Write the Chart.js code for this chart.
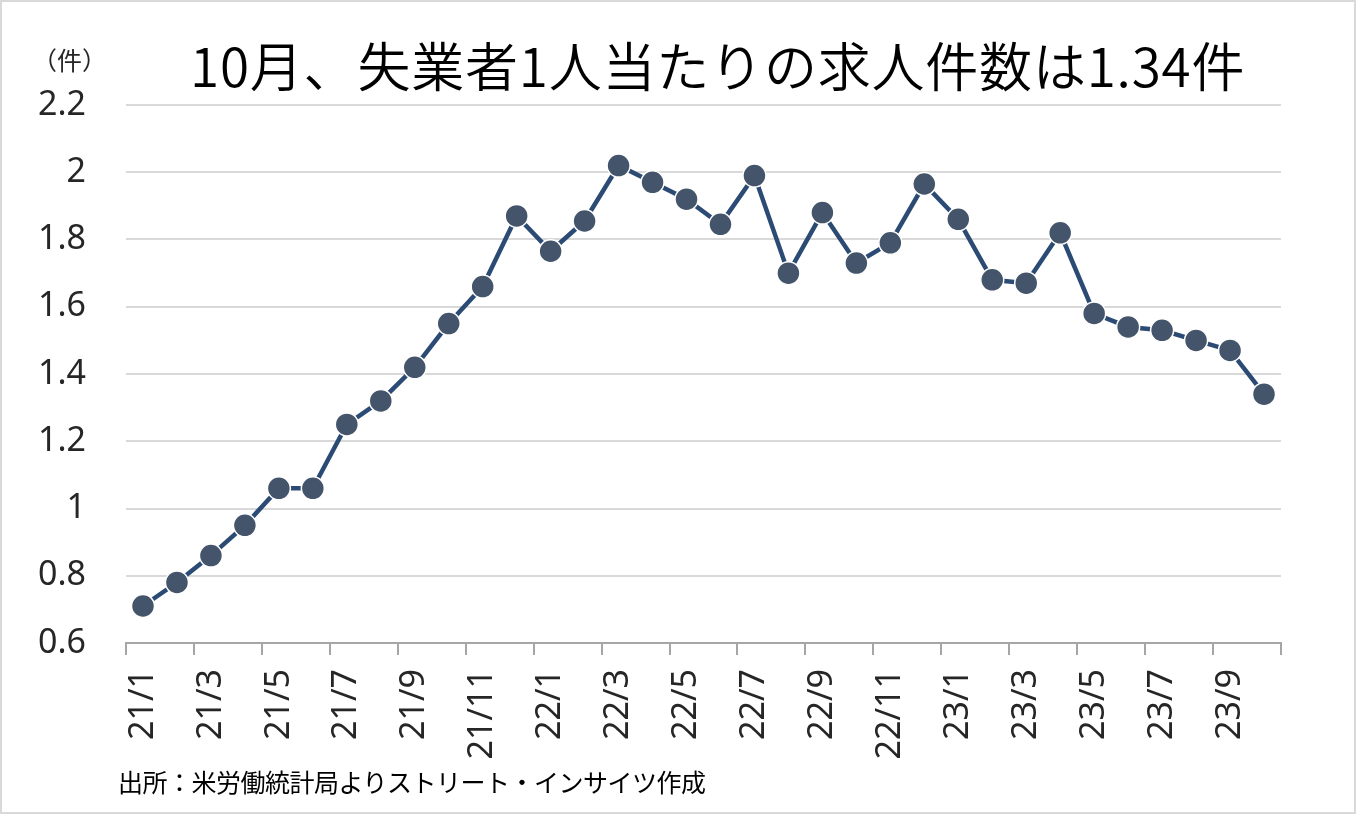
<!DOCTYPE html>
<html lang="ja">
<head>
<meta charset="utf-8">
<title>求人件数</title>
<script src="https://cdn.jsdelivr.net/npm/chart.js@4.4.0/dist/chart.umd.min.js"></script>
<style>
  html, body { margin: 0; padding: 0; background: #fff; }
  #wrap { position: relative; width: 1356px; height: 814px; overflow: hidden; }
  #chart { position: absolute; left: 0; top: 0; }
  #frame { position: absolute; left: 0; top: 0; width: 1356px; height: 814px; box-sizing: border-box; border: 2px solid #d9d9d9; pointer-events: none; }
  .txt { position: absolute; white-space: nowrap; font-family: "Noto Sans CJK JP", sans-serif; color: #000; line-height: 1; }
  #title { left: 190px; top: 38px; font-size: 53px; font-weight: 350; letter-spacing: 0.8px; }
  #unit { left: 32px; top: 47px; font-size: 25px; color: #262626; }
  #source { left: 118px; top: 769px; font-size: 25px; letter-spacing: -0.5px; }
</style>
</head>
<body>
<div id="wrap">
  <canvas id="chart" width="1356" height="814"></canvas>
  <div class="txt" id="title">10月、失業者1人当たりの求人件数は1.34件</div>
  <div class="txt" id="unit">（件）</div>
  <div class="txt" id="source">出所：米労働統計局よりストリート・インサイツ作成</div>
  <div id="frame"></div>
</div>
<script>
// 月（年/月）
const months = [
    '21/1', '21/2', '21/3', '21/4', '21/5', '21/6', '21/7', '21/8', '21/9', '21/10', '21/11', '21/12',
    '22/1', '22/2', '22/3', '22/4', '22/5', '22/6', '22/7', '22/8', '22/9', '22/10', '22/11', '22/12',
    '23/1', '23/2', '23/3', '23/4', '23/5', '23/6', '23/7', '23/8', '23/9', '23/10'
];

// 失業者1人当たりの求人件数
const jobsPerUnemployed = [
    0.71, 0.78, 0.86, 0.95, 1.06, 1.06, 1.25, 1.32, 1.42, 1.55, 1.66, 1.87,
    1.765, 1.855, 2.02, 1.97, 1.92, 1.845, 1.99, 1.70, 1.88, 1.73, 1.79, 1.965,
    1.86, 1.68, 1.67, 1.82, 1.58, 1.54, 1.53, 1.50, 1.47, 1.34
];

// 縦軸の目盛
const yMin = 0.6;
const yMax = 2.2;
const yStep = 0.2;

const ctx = document.getElementById('chart');

new Chart(ctx, {
    type: 'line',
    data: {
        labels: months,
        datasets: [{
            label: '求人件数',
            data: jobsPerUnemployed,
            borderColor: '#2c4b74',
            borderWidth: 4.5,
            tension: 0,
            pointRadius: 11.5,
            pointHoverRadius: 11.5,
            pointBackgroundColor: '#44546a',
            pointBorderColor: '#ffffff',
            pointBorderWidth: 1.5
        }]
    },
    options: {
        responsive: false,
        animation: false,
        devicePixelRatio: 1,
        layout: {
            padding: { left: 0, right: 75, top: 105, bottom: 0 }
        },
        plugins: {
            legend: { display: false },
            tooltip: { enabled: false }
        },
        scales: {
            x: {
                offset: true,
                afterFit: (scale) => { scale.height = 171; },
                grid: {
                    offset: true,
                    drawOnChartArea: false,
                    drawTicks: true,
                    tickLength: 12,
                    lineWidth: 2,
                    color: (c) => (c.index === undefined || c.index % 2 === 0) ? '#a6a6a6' : 'rgba(0,0,0,0)'
                },
                border: { color: '#a6a6a6', width: 2 },
                ticks: {
                    autoSkip: false,
                    minRotation: 90,
                    maxRotation: 90,
                    padding: 14,
                    color: '#262626',
                    font: { family: 'Noto Sans', size: 34 },
                    callback: function (value, index) {
                        return index % 2 === 0 ? this.getLabelForValue(value) : '';
                    }
                }
            },
            y: {
                min: yMin,
                max: yMax,
                afterFit: (scale) => { scale.width = 126; },
                grid: {
                    drawTicks: false,
                    lineWidth: 2,
                    color: (c) => c.index === 0 ? 'rgba(0,0,0,0)' : '#d9d9d9'
                },
                border: { display: false },
                ticks: {
                    stepSize: yStep,
                    padding: 40,
                    color: '#262626',
                    font: { family: 'Noto Sans', size: 34 },
                    callback: (v) => Math.round(v * 10) / 10
                }
            }
        }
    }
});
</script>
</body>
</html>
